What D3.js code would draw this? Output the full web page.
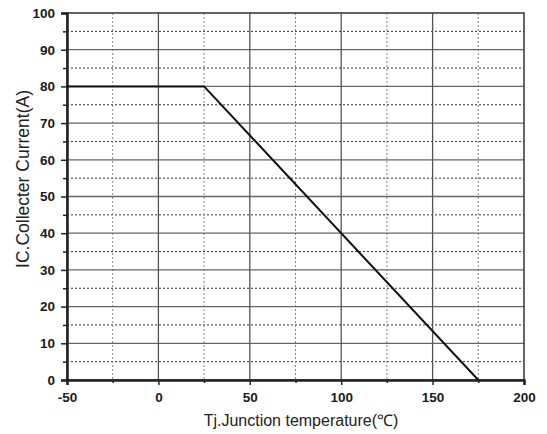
<!DOCTYPE html>
<html>
<head>
<meta charset="utf-8">
<script src="https://cdn.jsdelivr.net/npm/d3@7"></script>
<style>
  body { margin: 0; background: #fff; }
  svg { display: block; font-family: "Liberation Sans", Arial, sans-serif; }
</style>
</head>
<body>
<svg id="chart" width="547" height="434"></svg>
<script>
// derating curve: Tj (°C) vs IC (A)
var tempC = [-50, 25, 175];
var currentA = [80, 80, 0];

var xTicks = [-50, 0, 50, 100, 150, 200];
var xMinor = [-25, 25, 75, 125, 175];
var yTicks = [0, 10, 20, 30, 40, 50, 60, 70, 80, 90, 100];
var yMinor = [5, 15, 25, 35, 45, 55, 65, 75, 85, 95];

var svg = d3.select("#chart"),
    margin = {top: 13, right: 23, bottom: 54, left: 67},
    width = +svg.attr("width") - margin.left - margin.right,
    height = +svg.attr("height") - margin.top - margin.bottom,
    g = svg.append("g").attr("transform", "translate(" + margin.left + "," + margin.top + ")");

var x = d3.scaleLinear().domain([-50, 200]).range([0, width]);
var y = d3.scaleLinear().domain([0, 100]).range([height, 0]);

// grid: dotted at minor, solid at major
g.append("g").selectAll("line").data(yMinor).enter().append("line")
    .attr("x1", 0).attr("x2", width)
    .attr("y1", function(d) { return y(d); }).attr("y2", function(d) { return y(d); })
    .attr("stroke", "#333").attr("stroke-width", 1).attr("stroke-dasharray", "2,2");
g.append("g").selectAll("line").data(xMinor).enter().append("line")
    .attr("y1", 0).attr("y2", height)
    .attr("x1", function(d) { return x(d); }).attr("x2", function(d) { return x(d); })
    .attr("stroke", "#888").attr("stroke-width", 1).attr("stroke-dasharray", "2,2");
g.append("g").selectAll("line").data(yTicks.slice(1, -1)).enter().append("line")
    .attr("x1", 0).attr("x2", width)
    .attr("y1", function(d) { return y(d); }).attr("y2", function(d) { return y(d); })
    .attr("stroke", "#666").attr("stroke-width", 1.3);
g.append("g").selectAll("line").data(xTicks.slice(1, -1)).enter().append("line")
    .attr("y1", 0).attr("y2", height)
    .attr("x1", function(d) { return x(d); }).attr("x2", function(d) { return x(d); })
    .attr("stroke", "#555").attr("stroke-width", 1.3);

// frame
g.append("rect").attr("width", width).attr("height", height)
    .attr("fill", "none").attr("stroke", "#333").attr("stroke-width", 1.5);

// axes (plain hyphen for negatives, like the original)
g.append("g").attr("transform", "translate(0," + height + ")")
    .call(d3.axisBottom(x).tickValues(xTicks).tickSize(5).tickPadding(7).tickFormat(String));
g.append("g").attr("transform", "translate(0," + height + ")")
    .call(d3.axisBottom(x).tickValues(xMinor).tickSize(3).tickFormat(""))
    .select(".domain").remove();
g.append("g")
    .call(d3.axisLeft(y).tickValues(yTicks).tickSize(6).tickPadding(6).tickFormat(String));
g.append("g")
    .call(d3.axisLeft(y).tickValues(yMinor).tickSize(4).tickFormat(""))
    .select(".domain").remove();

svg.selectAll(".tick line").attr("stroke", "#222").attr("stroke-width", 1.5);
svg.selectAll(".domain").attr("stroke", "#222").attr("stroke-width", 2.5);
svg.selectAll(".tick text").attr("fill", "#1a1a1a")
    .style("font-size", "13.5px").style("font-weight", "bold");

// curve
var line = d3.line()
    .x(function(d) { return x(d[0]); })
    .y(function(d) { return y(d[1]); });
g.append("path")
    .datum(d3.zip(tempC, currentA))
    .attr("fill", "none")
    .attr("stroke", "#111")
    .attr("stroke-width", 2)
    .attr("d", line);

// titles
svg.append("text")
    .attr("x", 301).attr("y", 426)
    .attr("text-anchor", "middle").attr("fill", "#222")
    .style("font-size", "16px")
    .text("Tj.Junction temperature(℃)");
svg.append("text")
    .attr("transform", "translate(29,179) rotate(-90)")
    .attr("text-anchor", "middle").attr("fill", "#222")
    .style("font-size", "17.5px")
    .text("IC.Collecter Current(A)");
</script>
</body>
</html>
